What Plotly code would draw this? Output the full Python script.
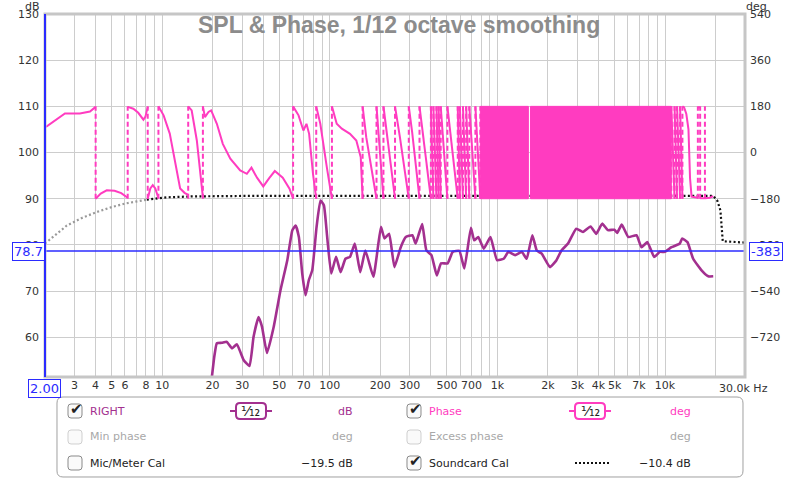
import plotly.graph_objects as go

# ---- data ----
# SPL of the RIGHT channel (dB)
spl_hz = [19.8, 20.5, 21.2, 22.7, 24.3, 26.1, 27.9, 29.5, 30.6, 33.2, 35.1, 37.6, 39.4, 42.2,
          46.3, 50.8, 55.8, 59.8, 62.6, 65.4, 68.5, 71.7, 75.0, 78.6, 83.4, 88.0, 92.2, 96.5,
          102, 109, 116, 124, 132, 141, 152, 163, 182, 202, 212, 226, 243, 265, 284, 311, 325,
          338, 356, 377, 404, 435, 461, 505, 541, 593, 635, 695, 727, 769, 829, 909, 995,
          1090, 1163, 1276, 1397, 1495, 1616, 1717, 1839, 2057, 2251, 2410, 2638, 2955, 3238,
          3597, 3885, 4216, 4563, 4993, 5176, 5518, 6040, 6760, 7237, 7850, 8610, 9317, 9980,
          10930, 12255, 12660, 13610, 14720, 16520, 18120, 19390]
spl_db = [51.4, 56.0, 58.7, 58.8, 59.0, 57.6, 58.5, 56.5, 55.1, 53.8, 60.1, 64.4, 62.3, 56.6,
          62.3, 70.2, 76.7, 83.2, 84.2, 81.7, 73.8, 69.1, 72.4, 74.5, 83.9, 89.6, 88.6, 81.7,
          73.8, 77.4, 74.1, 77.0, 77.4, 80.3, 74.1, 78.8, 73.1, 83.9, 81.4, 82.4, 75.2, 79.5,
          81.7, 82.1, 80.3, 82.1, 84.5, 78.8, 77.8, 73.4, 76.0, 76.0, 78.5, 78.7, 74.9, 83.7,
          81.0, 81.7, 79.2, 81.7, 76.7, 77.0, 78.5, 77.8, 78.5, 77.0, 82.1, 78.8, 78.1, 75.2,
          76.7, 78.8, 80.3, 83.5, 82.8, 84.0, 82.4, 84.6, 83.2, 83.3, 82.6, 84.4, 81.7, 82.1,
          79.5, 80.6, 77.4, 78.5, 78.5, 79.5, 80.3, 81.4, 80.6, 77.0, 74.5, 73.2, 73.2]

# wrapped phase (deg), None splits the segments at each wrap
phase_hz = [2.0, 2.05, 2.63, 3.23, 3.71, 4.01, None,
            4.01, 4.3, 4.67, 5.2, 5.7, 6.23, None,
            6.23, 6.73, 7.2, 7.73, 7.95, 8.2, None,
            8.2, 8.5, 8.79, 9.1, 9.5, None,
            9.5, 10.2, 11.1, 11.9, 12.8, 13.6, 14.3, None,
            14.3, 15.0, 16.1, 17.2, 17.5, None,
            17.5, 18.0, 18.9, 19.6, 21.2, 23.0, 25.5, 29.2, 32.0, 34.1, 36.8, 40.1, 43.5, 47.0,
            52.4, 57.5, 60.4, None,
            60.4, 65.1, 69.6, 72.6, 75.3, 79.4, 83, None,
            83, 87.8, 96, 103, None,
            103, 110, 118, 132, 144, 153, 157, None,
            157, 165, 190, None, 190, 209, None, 209, 220, 245, None, 245, 262, 296, None,
            296, 310, 343, None,
            343, 401, None, 401, 415, None, 415, 433, None, 433, 446, None, 446, 459, None,
            459, 503, None, 503, 580, None, 580, 597, None, 597, 623, None, 623, 651, None,
            651, 680, None, 680, 739, None, 739, 791, None,
            10900, 11400, None, 11400, 11800, None, 11800, 12300, None, 12300, 12700, None,
            12700, 13000, 13400, 13800, 14100, 14400, 15700, None,
            15700, 16200, None, 16200, 17300, None,
            17300, 18500, 19400]
phase_deg = [100, 102, 152, 152, 160, 178, None,
             -180, -160, -147, -149, -158, -176, None,
             178, 171, 155, 128, 140, 178, None,
             -180, -140, -127, -140, -178, None,
             180, 145, 74, -30, -140, -157, -165, None,
             180, 164, 47, -148, -175, None,
             180, 138, 158, 164, 112, 34, -24, -70, -83, -59, -98, -132, -100, -72,
             -98, -141, -180, None,
             180, 145, 86, 112, 73, -83, -180, None,
             180, 112, -57, -180, None,
             180, 112, 93, 73, 47, -18, -180, None,
             180, 60, -180, None, 180, -180, None, 180, 70, -180, None, 180, 60, -180, None,
             180, 80, -180, None,
             180, -180, None, 180, -180, None, 180, -180, None, 180, -180, None, 180, -180, None,
             180, -180, None, 180, -180, None, 180, -180, None, 180, -180, None, 180, -180, None,
             180, -180, None, 180, -180, None, 180, -180, None,
             180, -180, None, 180, -180, None, 180, -180, None, 180, -180, None,
             180, 176, 150, 90, -100, -172, -176, None,
             176, 176, None, -178, -178, None,
             -178, -176, -170]
# frequencies where the phase wraps (dashed verticals)
wrap_hz = [4.01, 6.23, 8.2, 9.5, 14.3, 17.5, 60.4, 83, 103, 157, 190, 209, 245, 296, 343,
           401, 415, 433, 446, 459, 503, 580, 597, 623, 651, 680, 739, 791,
           10900, 11400, 11800, 12300, 12700, 15700, 16200, 17300]
# ranges where the wraps are so close they look solid
dense_lo = [791, 1575]
dense_hi = [1530, 10900]

# soundcard calibration (dotted)
cal_hz = [2.0, 2.7, 3.3, 4.06, 5.0, 6.1, 8.1, 10.6, 15, 30, 19400, 20500, 21400, 22100, 30000]
cal_db = [80.3, 84.2, 85.8, 87.1, 88.2, 89.0, 89.8, 90.3, 90.5, 90.6, 90.6, 89.6, 87.5, 80.8, 80.5]

cursor_hz = 2.0
cursor_db = 78.7
cursor_deg = -383

x_labels = {3: '3', 4: '4', 5: '5', 6: '6', 8: '8', 10: '10', 20: '20', 30: '30', 50: '50',
            70: '70', 100: '100', 200: '200', 300: '300', 500: '500', 700: '700', 1000: '1k',
            2000: '2k', 3000: '3k', 4000: '4k', 5000: '5k', 7000: '7k', 10000: '10k'}
db_ticks = [60, 70, 80, 90, 100, 110, 120, 130]
deg_ticks = [-720, -540, -360, -180, 0, 180, 360, 540]

PURPLE = '#a3308f'
PINK = '#ff3cc0'
BLUE = '#2b2bff'
FONT = 'DejaVu Sans'

# plot area in pixels
L, R, T, B = 45, 745, 14, 377


def px(x, y):
    return (x - L) / (R - L), (B - y) / (B - T)


def rrect(x0, y0, x1, y1, r):
    p = [(x0 + r, y0), (x1 - r, y0), (x1, y0), (x1, y0 + r), (x1, y1 - r), (x1, y1),
         (x1 - r, y1), (x0 + r, y1), (x0, y1), (x0, y1 - r), (x0, y0 + r), (x0, y0), (x0 + r, y0)]
    q = ['%.5f,%.5f' % px(*a) for a in p]
    return ('M%s L%s Q%s %s L%s Q%s %s L%s Q%s %s L%s Q%s %s Z'
            % tuple(q))


fig = go.Figure()

# calibration curve
split = cal_hz.index(8.1) + 1
fig.add_trace(go.Scatter(x=cal_hz[:split], y=cal_db[:split], mode='lines',
                         line=dict(color='#9a9a9a', width=2.2, dash='2px,2.4px')))
fig.add_trace(go.Scatter(x=cal_hz[split - 1:], y=cal_db[split - 1:], mode='lines',
                         line=dict(color='#111111', width=2.2, dash='2px,2.4px')))

# phase - dense blocks
for lo, hi in zip(dense_lo, dense_hi):
    fig.add_trace(go.Scatter(x=[lo, hi, hi, lo, lo], y=[-180, -180, 180, 180, -180], yaxis='y2',
                             mode='lines', fill='toself', fillcolor=PINK,
                             line=dict(color=PINK, width=1)))

# phase - wrap verticals
wx, wy = [], []
for f in wrap_hz:
    wx += [f, f, None]
    wy += [-180, 180, None]
fig.add_trace(go.Scatter(x=wx, y=wy, yaxis='y2', mode='lines',
                         line=dict(color=PINK, width=2, dash='5px,3px')))
fig.add_trace(go.Scatter(x=phase_hz, y=phase_deg, yaxis='y2', mode='lines',
                         line=dict(color=PINK, width=2), connectgaps=False))

# SPL
fig.add_trace(go.Scatter(x=spl_hz, y=spl_db, mode='lines',
                         line=dict(color=PURPLE, width=2.6, shape='spline', smoothing=0.4)))

grid = [k * 10 ** n for n in range(0, 5) for k in range(1, 10) if 2 <= k * 10 ** n <= 30000]

shapes = [
    dict(type='line', xref='paper', yref='y', x0=0, x1=1, y0=cursor_db, y1=cursor_db,
         line=dict(color=BLUE, width=1.5)),
    dict(type='rect', xref='paper', yref='paper', x0=0, x1=1, y0=0, y1=1,
         line=dict(color='#c6c6c6', width=3)),
    dict(type='line', xref='paper', yref='paper', x0=0, x1=0, y0=0, y1=1,
         line=dict(color=BLUE, width=2)),
    # legend frame
    dict(type='path', xref='paper', yref='paper', path=rrect(57, 397, 743, 477, 6),
         line=dict(color='#a0a0a0', width=1)),
]

annots = [
    dict(text='<b>SPL & Phase, 1/12 octave smoothing</b>', x=px(399, 25)[0], y=px(399, 25)[1],
         font=dict(family='Liberation Sans', size=23, color='#8c8c8c')),
    dict(text='dB', x=px(32, 6)[0], y=px(32, 6)[1], font=dict(size=11, color='#333')),
    dict(text='deg', x=px(756, 6)[0], y=px(756, 6)[1], font=dict(size=11, color='#333')),
    dict(text='30.0k Hz', x=px(717, 388)[0], y=px(717, 388)[1], xanchor='left',
         font=dict(size=11, color='#333')),
    dict(text='%.2f' % cursor_hz, x=px(44, 389)[0], y=px(44, 389)[1], bgcolor='white',
         bordercolor=BLUE, borderwidth=1, borderpad=1, font=dict(size=13, color=BLUE)),
    dict(text='%.1f' % cursor_db, x=px(28, 251)[0], y=px(28, 251)[1], bgcolor='white',
         bordercolor=BLUE, borderwidth=1, borderpad=1, font=dict(size=13, color=BLUE)),
    dict(text='%d' % cursor_deg, x=px(766, 251)[0], y=px(766, 251)[1], bgcolor='white',
         bordercolor=BLUE, borderwidth=1, borderpad=1, font=dict(size=13, color=BLUE)),
]

# legend rows
rows = [411, 437, 463]
cols = [(68, 88, 251, 355), (407, 427, 590, 693)]
items = [
    [('RIGHT', PURPLE, True, 'dB', PURPLE, 'smooth'), ('Phase', PINK, True, 'deg', PINK, 'smooth')],
    [('Min phase', '#a8a8a8', None, 'deg', '#a8a8a8', None),
     ('Excess phase', '#a8a8a8', None, 'deg', '#a8a8a8', None)],
    [('Mic/Meter Cal', '#222', False, '−19.5 dB', '#222', None),
     ('Soundcard Cal', '#222', True, '−10.4 dB', '#222', 'dots')],
]
for r, y in enumerate(rows):
    for c, (xb, xt, xi, xr) in enumerate(cols):
        name, ncol, state, unit, ucol, icon = items[r][c]
        bc = '#cfcfcf' if state is None else '#8a8a8a'
        shapes.append(dict(type='path', xref='paper', yref='paper',
                           path=rrect(xb, y - 7, xb + 14, y + 7, 3),
                           line=dict(color=bc, width=1), fillcolor='#fafafa'))
        if state:
            annots.append(dict(text='✔', x=px(xb + 8, y - 2)[0], y=px(xb + 8, y - 2)[1],
                               font=dict(size=15, color='#222')))
        annots.append(dict(text=name, x=px(xt, y)[0], y=px(xt, y)[1], xanchor='left',
                           font=dict(size=11, color=ncol)))
        annots.append(dict(text=unit, x=px(xr, y)[0], y=px(xr, y)[1], xanchor='right',
                           font=dict(size=11, color=ucol)))
        if icon == 'smooth':
            shapes.append(dict(type='line', xref='paper', yref='paper',
                               x0=px(xi - 21, y)[0], x1=px(xi + 21, y)[0],
                               y0=px(xi, y)[1], y1=px(xi, y)[1], line=dict(color=ncol, width=2)))
            shapes.append(dict(type='path', xref='paper', yref='paper',
                               path=rrect(xi - 15, y - 8, xi + 15, y + 8, 4),
                               line=dict(color=ncol, width=2), fillcolor='white'))
            annots.append(dict(text='¹⁄₁₂', x=px(xi, y)[0], y=px(xi, y)[1],
                               font=dict(size=14, color='#222')))
        elif icon == 'dots':
            shapes.append(dict(type='line', xref='paper', yref='paper',
                               x0=px(xi - 15, y)[0], x1=px(xi + 19, y)[0],
                               y0=px(xi, y)[1], y1=px(xi, y)[1],
                               line=dict(color='#111', width=2, dash='2px,2px')))

for a in annots:
    a.setdefault('xref', 'paper')
    a.setdefault('yref', 'paper')
    a.setdefault('xanchor', 'center')
    a.setdefault('yanchor', 'middle')
    a.setdefault('showarrow', False)

fig.update_layout(
    width=800, height=479,
    margin=dict(l=L, r=800 - R, t=T, b=479 - B, pad=0, autoexpand=False),
    paper_bgcolor='white', plot_bgcolor='white',
    showlegend=False,
    font=dict(family=FONT, size=11, color='#333'),
    xaxis=dict(type='log', range=[0.30103, 4.47712], tickvals=grid,
               ticktext=[x_labels.get(v, '') for v in grid], showgrid=True,
               gridcolor='#cdcdcd', gridwidth=1, zeroline=False, showline=False, ticks='',
               tickangle=0, automargin=False),
    yaxis=dict(range=[51.4, 130], tickvals=db_ticks, showgrid=True, gridcolor='#cdcdcd',
               zeroline=False, showline=False, ticks='', ticklabelstandoff=5, automargin=False),
    yaxis2=dict(range=[-874.8, 540], tickvals=deg_ticks, overlaying='y', side='right',
                showgrid=False, zeroline=False, showline=False, ticks='', ticklabelstandoff=4,
                automargin=False),
    shapes=shapes, annotations=annots,
)

# the page body has an 8px default margin; drop it so the figure sits at 0,0
fig.write_html('out.html', config={'displayModeBar': False},
               post_script="document.body.style.margin='0px';")
